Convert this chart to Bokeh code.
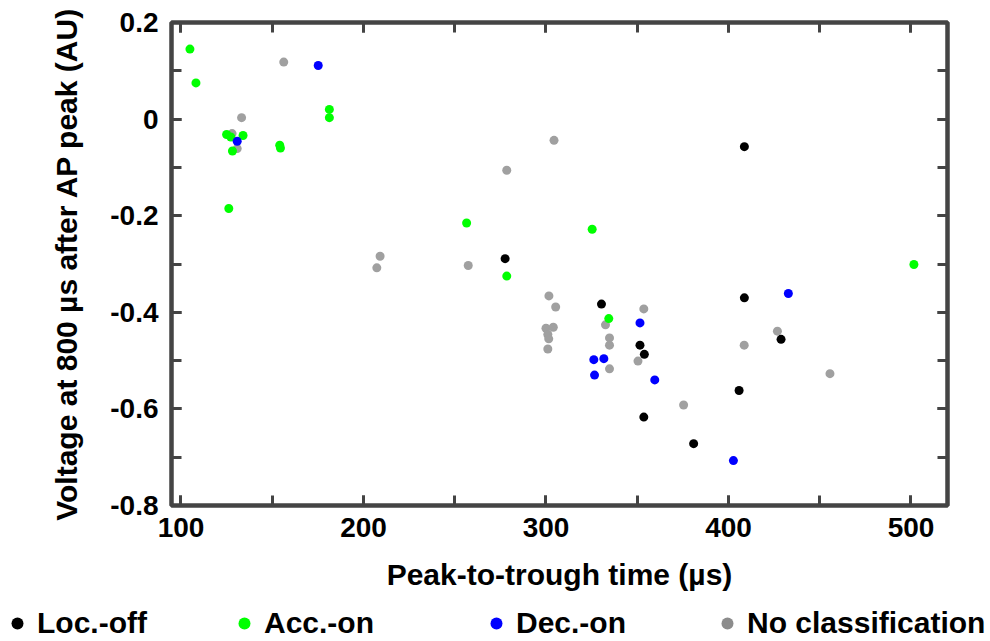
from bokeh.plotting import figure
from bokeh.models import (LinearAxis, FixedTicker, Legend, LegendItem, Range1d,
                          CustomJSTickFormatter)
from bokeh.embed import file_html
from bokeh.resources import INLINE

# ---- data ----
loc_off_x = [277.6, 330.4, 351.5, 353.9, 353.6, 380.9, 408.7, 408.7, 428.8, 405.8]
loc_off_y = [-0.289, -0.383, -0.468, -0.487, -0.617, -0.672, -0.057, -0.370, -0.456, -0.562]

acc_on_x = [104.9, 108.2, 181.3, 181.3, 125.0, 127.3, 134.0, 128.2, 154.1, 154.5, 126.2,
            256.5, 325.3, 278.5, 334.4, 501.6]
acc_on_y = [0.145, 0.075, 0.020, 0.003, -0.032, -0.037, -0.034, -0.066, -0.054, -0.060, -0.185,
            -0.215, -0.228, -0.325, -0.413, -0.301]

dec_on_x = [175.2, 130.8, 351.5, 326.2, 331.7, 326.6, 359.6, 432.8, 402.7]
dec_on_y = [0.111, -0.046, -0.422, -0.498, -0.496, -0.530, -0.540, -0.361, -0.707]

none_x = [156.3, 133.2, 128.0, 130.8, 209.1, 207.3, 304.4, 278.5, 257.4, 301.6, 305.3, 353.6,
          332.6, 300.0, 304.0, 301.0, 301.5, 301.0, 334.8, 334.8, 350.4, 334.8, 375.4, 426.8,
          408.6, 455.6]
none_y = [0.118, 0.003, -0.030, -0.061, -0.284, -0.308, -0.044, -0.106, -0.303, -0.366, -0.389,
          -0.393, -0.426, -0.433, -0.431, -0.446, -0.455, -0.476, -0.453, -0.468, -0.501, -0.517,
          -0.592, -0.439, -0.468, -0.527]

labels = ["Loc.-off", "Acc.-on", "Dec.-on", "No classification"]
colors = ["#000000", "#00ff00", "#0000ff", "#a0a0a0"]
legend_colors = ["#000000", "#00ff00", "#0000ff", "#8c8c8c"]
x_label = "Peak-to-trough time (\u00b5s)"
y_label = "Voltage at 800 \u00b5s after AP peak (AU)"

x_major = [100, 200, 300, 400, 500]
x_minor = [100, 150, 200, 250, 300, 350, 400, 450, 500]
y_major = [-0.8, -0.6, -0.4, -0.2, 0.0, 0.2]
y_minor = [-0.8, -0.7, -0.6, -0.5, -0.4, -0.3, -0.2, -0.1, 0.0, 0.1, 0.2]

FONT = "Liberation Sans"
TICK_FS = "28px"
LABEL_FS = "30px"
FRAME_COLOR = "#444444"

p = figure(frame_width=776, frame_height=483, width=982, height=605,
           x_range=Range1d(94.8, 520), y_range=Range1d(-0.8, 0.2),
           output_backend="svg", toolbar_location=None,
           min_border_left=171, min_border_top=22, min_border_right=35, min_border_bottom=100,
           x_axis_location=None, y_axis_location=None)
p.grid.visible = False
p.outline_line_color = FRAME_COLOR
p.outline_line_width = 4.5
p.background_fill_color = "white"
p.border_fill_color = "white"

fmt = CustomJSTickFormatter(code="return Math.abs(tick) < 1e-9 ? '0' : tick.toFixed(1);")
xfmt = CustomJSTickFormatter(code="return tick.toFixed(0);")


def style_axis(ax, show_labels):
    ax.axis_line_color = None
    ax.major_tick_in = 10
    ax.major_tick_out = 0
    ax.minor_tick_in = 10
    ax.minor_tick_out = 0
    ax.major_tick_line_color = FRAME_COLOR
    ax.minor_tick_line_color = FRAME_COLOR
    ax.major_tick_line_width = 3
    ax.minor_tick_line_width = 3
    if show_labels:
        ax.major_label_text_font = FONT
        ax.major_label_text_font_size = TICK_FS
        ax.major_label_text_font_style = "bold"
        ax.major_label_text_color = "black"
        ax.axis_label_text_font = FONT
        ax.axis_label_text_font_size = LABEL_FS
        ax.axis_label_text_font_style = "bold"
        ax.axis_label_text_color = "black"
    else:
        ax.major_label_text_font_size = "1px"
        ax.major_label_text_alpha = 0
        ax.major_label_standoff = 0


def xt():
    return FixedTicker(ticks=x_major, minor_ticks=x_minor)


def yt():
    return FixedTicker(ticks=y_major, minor_ticks=y_minor)


xb = LinearAxis(ticker=xt(), axis_label=x_label, formatter=xfmt)
style_axis(xb, True)
xb.major_label_standoff = 12
xb.axis_label_standoff = 18
p.add_layout(xb, "below")

yl = LinearAxis(ticker=yt(), axis_label=y_label, formatter=fmt)
style_axis(yl, True)
yl.major_label_standoff = 13
yl.axis_label_standoff = 24
p.add_layout(yl, "left")

xa = LinearAxis(ticker=xt())
style_axis(xa, False)
p.add_layout(xa, "above")

yr = LinearAxis(ticker=yt())
style_axis(yr, False)
p.add_layout(yr, "right")

series = [(loc_off_x, loc_off_y), (acc_on_x, acc_on_y), (dec_on_x, dec_on_y), (none_x, none_y)]
# draw order: unclassified first, then green, blue, black on top
for i in [3, 1, 2, 0]:
    xs, ys = series[i]
    p.scatter(xs, ys, size=9, color=colors[i], line_color=None)

# ---- legend strip below the plot (its own root, so it is not frame-aligned) ----
lf = figure(width=990, height=36, x_range=Range1d(0, 1), y_range=Range1d(0, 1),
            output_backend="svg", toolbar_location=None,
            min_border_left=0, min_border_right=0, min_border_top=0, min_border_bottom=0,
            x_axis_location=None, y_axis_location=None)
lf.grid.visible = False
lf.outline_line_color = None
lf.background_fill_color = "white"
lf.border_fill_color = "white"

leg_x = [2, 229, 481, 712]
for i, (lab, col, lx) in enumerate(zip(labels, legend_colors, leg_x)):
    xs, ys = series[i]
    # series renderer (its points lie outside this strip's range, only the legend key shows)
    r = lf.scatter(xs, ys, size=12, color=col, line_color=None)
    lg = Legend(items=[LegendItem(label=lab, renderers=[r])], location=(lx, 0),
                padding=0, margin=0, border_line_color=None, background_fill_alpha=0,
                glyph_width=30, glyph_height=36, label_height=36, label_standoff=5,
                label_text_font=FONT, label_text_font_size=LABEL_FS,
                label_text_font_style="bold", label_text_color="black")
    lf.add_layout(lg, "center")

open("out.html", "w").write(file_html([p, lf], INLINE))
